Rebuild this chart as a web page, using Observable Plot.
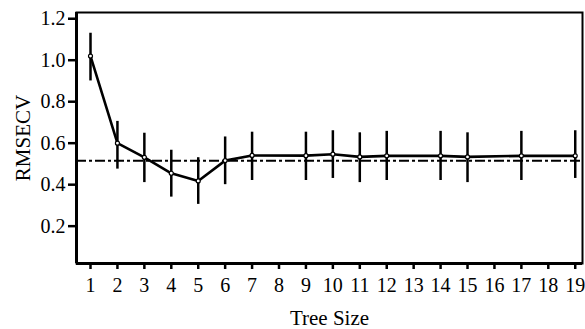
<!DOCTYPE html>
<html>
<head>
<meta charset="utf-8">
<script src="https://cdn.jsdelivr.net/npm/d3@7"></script>
<script src="https://cdn.jsdelivr.net/npm/@observablehq/plot@0.6"></script>
<style>
  html, body { margin: 0; padding: 0; background: #fff; }
</style>
</head>
<body>
<div id="chart"></div>
<script>
const treeSizes = [1, 2, 3, 4, 5, 6, 7, 9, 10, 11, 12, 14, 15, 17, 19];
const rmsecv    = [1.02, 0.60, 0.532, 0.455, 0.418, 0.516, 0.541, 0.540, 0.547, 0.534, 0.539, 0.539, 0.534, 0.539, 0.539];
const errLow    = [0.90, 0.475, 0.41, 0.34, 0.305, 0.40, 0.42, 0.42, 0.43, 0.41, 0.42, 0.42, 0.41, 0.42, 0.43];
const errHigh   = [1.13, 0.705, 0.648, 0.566, 0.53, 0.63, 0.653, 0.653, 0.66, 0.65, 0.657, 0.657, 0.65, 0.657, 0.66];
const refLine   = [0.515];
const xTicks    = d3.range(1, 20);
const yTicks    = [0.2, 0.4, 0.6, 0.8, 1.0, 1.2];

const data = treeSizes.map((s, i) => ({size: s, v: rmsecv[i], lo: errLow[i], hi: errHigh[i]}));
const xDomain = [0.48, 19.27];
const yDomain = [0.02, 1.23];

const chart = Plot.plot({
  width: 585,
  height: 329,
  marginLeft: 76,
  marginRight: 3,
  marginTop: 12,
  marginBottom: 66,
  style: {fontFamily: "'Liberation Serif', 'Times New Roman', serif", fontSize: "20px", color: "#000", background: "#fff"},
  x: {domain: xDomain},
  y: {domain: yDomain},
  marks: [
    Plot.axisX({ticks: xTicks, tickFormat: d => d, tickSize: 6, tickPadding: 8, strokeWidth: 2.5, fontSize: 20,
      label: "Tree Size", labelAnchor: "center", labelArrow: "none", labelOffset: 61}),
    Plot.axisY({ticks: yTicks, tickFormat: d3.format(".1f"), tickSize: 8, tickPadding: 3, strokeWidth: 2.5, fontSize: 20,
      label: "RMSECV", labelAnchor: "center", labelArrow: "none", labelOffset: 61}),
    Plot.frame({strokeWidth: 2}),
    Plot.ruleX([xDomain[0]], {strokeWidth: 3}),
    Plot.ruleY([yDomain[0]], {strokeWidth: 3}),
    Plot.ruleY(refLine, {strokeWidth: 2, strokeDasharray: "10,3,3,3"}),
    Plot.ruleX(data, {x: "size", y1: "lo", y2: "hi", strokeWidth: 2.5}),
    Plot.line(data, {x: "size", y: "v", strokeWidth: 2.6}),
    Plot.dot(data, {x: "size", y: "v", r: 2, fill: "white", stroke: "black", strokeWidth: 1.2})
  ]
});
chart.querySelectorAll("g[aria-label='x-axis label'] text, g[aria-label='y-axis label'] text").forEach(t => t.setAttribute("font-size", "21"));
document.getElementById("chart").appendChild(chart);
</script>
</body>
</html>
